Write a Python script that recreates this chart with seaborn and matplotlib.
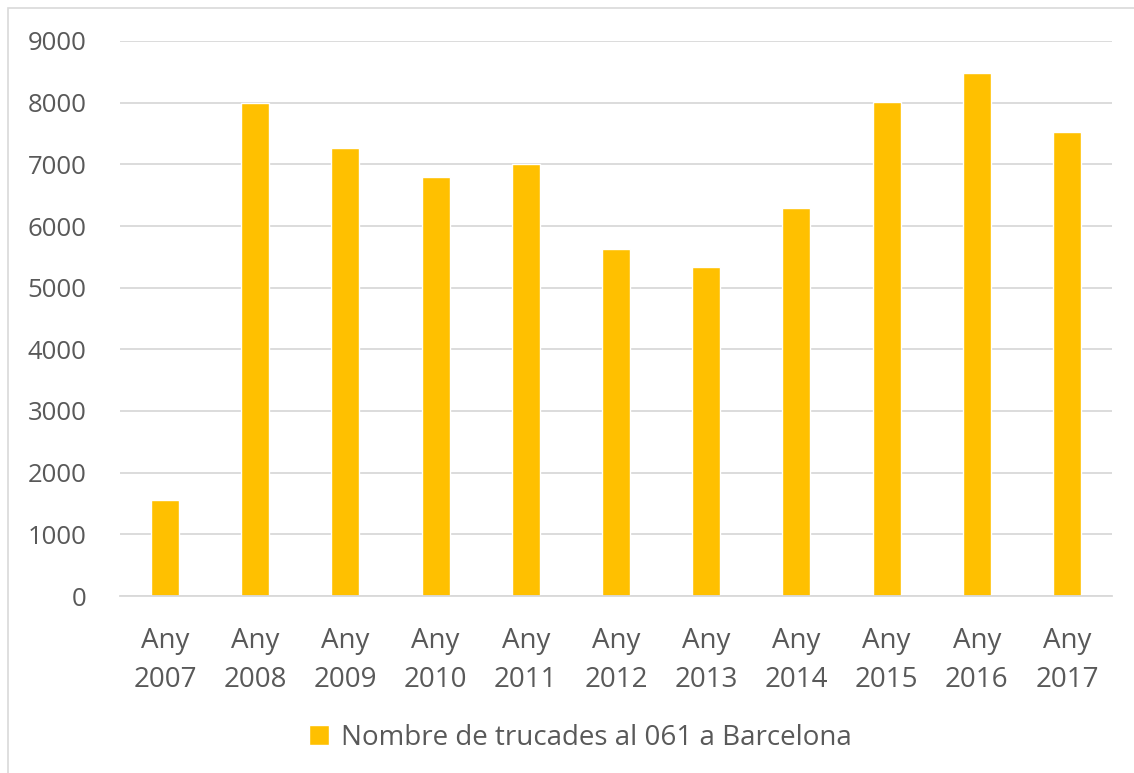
import matplotlib
matplotlib.use("Agg")
import matplotlib.pyplot as plt
import seaborn as sns
import pandas as pd
from matplotlib.patches import Rectangle

categories = ["Any\n2007", "Any\n2008", "Any\n2009", "Any\n2010", "Any\n2011", "Any\n2012",
              "Any\n2013", "Any\n2014", "Any\n2015", "Any\n2016", "Any\n2017"]
values = [1550, 7990, 7265, 6790, 7005, 5632, 5340, 6290, 8015, 8480, 7520]
series_name = "Nombre de trucades al 061 a Barcelona"
yticks = [0, 1000, 2000, 3000, 4000, 5000, 6000, 7000, 8000, 9000]

sns.set_theme(style="white")
plt.rcParams['font.family'] = ['Open Sans', 'DejaVu Sans']

W, H = 1134, 773
fig = plt.figure(figsize=(W / 100, H / 100), dpi=100)
ax = fig.add_axes([120 / W, 1 - 596 / H, (1112 - 120) / W, (596 - 41) / H])

df = pd.DataFrame({"cat": categories, "val": values, "series": series_name})
sns.barplot(data=df, x="cat", y="val", hue="series", palette=["#FFC000"],
            width=0.31, ax=ax, saturation=1, legend=True)

ax.set_ylim(0, 9000)
ax.set_xlim(-0.5, len(categories) - 0.5)
ax.set_yticks(yticks)
ax.set_yticklabels([str(v) for v in yticks])
ax.yaxis.grid(True, color="#D9D9D9", linewidth=1.3)
ax.set_axisbelow(True)
for s in ["top", "right", "left"]:
    ax.spines[s].set_visible(False)
ax.spines["bottom"].set_color("#D9D9D9")
ax.spines["bottom"].set_linewidth(1.3)
ax.set_xlabel("")
ax.set_ylabel("")
ax.tick_params(axis="both", length=0, colors="#595959")
ax.tick_params(axis="y", pad=24, labelsize=18.5)
ax.tick_params(axis="x", pad=22, labelsize=20)
for t in ax.get_xticklabels():
    t.set_linespacing(1.55)

leg = ax.legend(loc="center", bbox_to_anchor=(580 / W, 1 - 738 / H),
                bbox_transform=fig.transFigure, frameon=False, fontsize=20,
                handlelength=0.75, handleheight=0.75, handletextpad=0.4)
for t in leg.get_texts():
    t.set_color("#595959")

fig.patches.append(Rectangle((8 / W, -0.1), 1.2, 1 - 8 / H + 0.1, transform=fig.transFigure,
                             fill=False, edgecolor="#D9D9D9", linewidth=1.2))

fig.savefig("out.png", dpi=100)
